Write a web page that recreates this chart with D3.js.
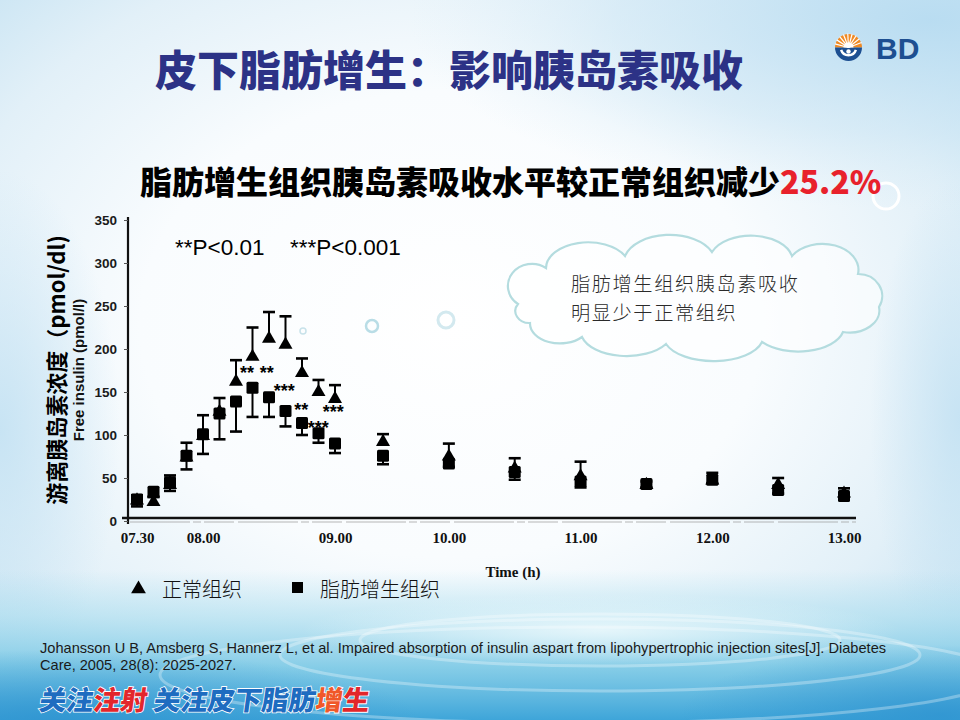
<!DOCTYPE html>
<html><head><meta charset="utf-8">
<script src="https://cdn.jsdelivr.net/npm/d3@7/dist/d3.min.js"></script>
<style>body{margin:0;background:#fff;} svg{display:block;}</style>
</head><body>
<svg id="c" width="960" height="720"></svg>
<script>
// ---------------- data ----------------
const times = [7.5, 7.625, 7.75, 7.875, 8.0, 8.125, 8.25, 8.375, 8.5, 8.625, 8.75, 8.875, 9.0,
               9.5, 10, 10.5, 11, 11.5, 12, 12.5, 13];
const normalMean = [24, 22, 42, 74, 99, 127, 162, 191, 212, 205, 172, 150, 142, 92, 75, 61, 52, 42, 47, 42, 32];
const normalSE   = [6, 6, 11, 17, 24, 16, 25, 34, 31, 33, 17, 14, 16, 9, 15, 12, 17, 4, 9, 8, 6];
const lipoMean   = [25, 34, 45, 76, 101, 125, 139, 155, 144, 128, 114, 102, 90, 76, 67, 57, 46, 43, 48, 36, 29];
const lipoSE     = [8, 6, 10, 16, 23, 30, 35, 34, 23, 18, 14, 11, 11, 10, 4, 9, 7, 4, 4, 4, 3];
const xTickValues = [7.5, 8, 9, 10, 11, 12, 13];
const xTickLabels = ["07.30", "08.00", "09.00", "10.00", "11.00", "12.00", "13.00"];
const yTickValues = [0, 50, 100, 150, 200, 250, 300, 350];
const sigLabels = ["**", "**", "***", "**", "***", "***"];
const sigTimes  = [8.333, 8.483, 8.616, 8.745, 8.873, 8.987];
const sigValues = [177, 177, 156, 134, 113, 131];
const seriesNames = ["正常组织", "脂肪增生组织"];
const pNotes = ["**P<0.01", "***P<0.001"];
const titleText = "皮下脂肪增生：影响胰岛素吸收";
const subtitleText = "脂肪增生组织胰岛素吸收水平较正常组织减少";
const subtitleValue = "25.2%";
const cloudLines = ["脂肪增生组织胰岛素吸收", "明显少于正常组织"];
const yTitleCn = "游离胰岛素浓度（pmol/dl)";
const yTitleEn = "Free insulin (pmol/l)";
const xTitle = "Time (h)";
const refLines = ["Johansson U B, Amsberg S, Hannerz L, et al. Impaired absorption of insulin aspart from lipohypertrophic injection sites[J]. Diabetes",
                  "Care, 2005, 28(8): 2025-2027."];

// ---------------- setup ----------------
const svg = d3.select("#c");
const defs = svg.append("defs");
const CJK = "'Noto Sans CJK SC','Noto Sans',sans-serif";
const SANS = "'Liberation Sans',Arial,sans-serif";
const SERIF = "'Liberation Serif','Times New Roman',serif";

function radial(id, stops){
  const g = defs.append("radialGradient").attr("id",id);
  stops.forEach(s=>g.append("stop").attr("offset",s[0]).attr("stop-color",s[1]).attr("stop-opacity",s[2]));
}
// background
const rg = defs.append("radialGradient").attr("id","bg").attr("cx","0.47").attr("cy","0.45").attr("r","0.72");
[[0,"#ffffff"],[0.45,"#f9fcfe"],[0.75,"#e2f0f8"],[1,"#c2e1f2"]].forEach(s=>rg.append("stop").attr("offset",s[0]).attr("stop-color",s[1]));
svg.append("rect").attr("width",960).attr("height",720).attr("fill","url(#bg)");
radial("tr", [[0,"#b8dcf1",0.95],[0.6,"#c8e4f4",0.5],[1,"#d8ecf7",0]]);
svg.append("ellipse").attr("cx",930).attr("cy",20).attr("rx",520).attr("ry",190).attr("fill","url(#tr)");
radial("lf", [[0,"#c4e2f3",0.9],[1,"#c4e2f3",0]]);
svg.append("ellipse").attr("cx",0).attr("cy",430).attr("rx",120).attr("ry",260).attr("fill","url(#lf)");
svg.append("ellipse").attr("cx",960).attr("cy",420).attr("rx",90).attr("ry",240).attr("fill","url(#lf)");
const bgBot = defs.append("linearGradient").attr("id","botg").attr("x1",0).attr("y1",0).attr("x2",0).attr("y2",1);
[[0,"#a6dcee",0],[0.3,"#a6dcee",0.55],[0.65,"#74c6e4",0.85],[1,"#3ea5d9",1]].forEach(s=>bgBot.append("stop").attr("offset",s[0]).attr("stop-color",s[1]).attr("stop-opacity",s[2]));
svg.append("rect").attr("y",570).attr("width",960).attr("height",150).attr("fill","url(#botg)");
radial("bl", [[0,"#2e93d0",0.8],[1,"#2e93d0",0]]);
svg.append("ellipse").attr("cx",60).attr("cy",720).attr("rx",360).attr("ry",70).attr("fill","url(#bl)");
svg.append("ellipse").attr("cx",940).attr("cy",715).attr("rx",260).attr("ry",70).attr("fill","url(#bl)");
radial("hl", [[0,"#eaf8fc",0.9],[1,"#eaf8fc",0]]);
svg.append("ellipse").attr("cx",600).attr("cy",630).attr("rx",300).attr("ry",36).attr("fill","url(#hl)");
[[600,640,240,26],[600,655,320,36],[580,675,420,48]].forEach(e=>svg.append("ellipse").attr("cx",e[0]).attr("cy",e[1]).attr("rx",e[2]).attr("ry",e[3])
  .attr("fill","none").attr("stroke","#ffffff").attr("stroke-opacity",0.3).attr("stroke-width",3));

// decorative bubbles
[[372,326,6,"#b9dde6",2.5],[446,320,8,"#d3e9ef",3],[303,331,3,"#c8e2ea",1.5],[886,196,13,"#ffffff",3]].forEach(c=>
  svg.append("circle").attr("cx",c[0]).attr("cy",c[1]).attr("r",c[2]).attr("fill","none").attr("stroke",c[3]).attr("stroke-width",c[4]));

// ---------------- title / logo ----------------
svg.append("text").attr("x",155).attr("y",67).attr("dominant-baseline","central")
  .attr("font-family",CJK).attr("font-weight",900).attr("font-size",42).attr("fill","#2c3286").text(titleText);

const lg = svg.append("g").attr("transform","translate(848.5,47.5)");
lg.append("path").attr("d",d3.arc()({innerRadius:0,outerRadius:13.5,startAngle:-Math.PI/2,endAngle:Math.PI/2})).attr("fill","#f08a24");
lg.append("path").attr("d",d3.arc()({innerRadius:0,outerRadius:13.5,startAngle:Math.PI/2,endAngle:Math.PI*1.5})).attr("fill","#1d4f91");
d3.range(-75,80,18).forEach(a=>{const r=a*Math.PI/180;lg.append("line").attr("x1",0).attr("y1",0)
  .attr("x2",14*Math.sin(r)).attr("y2",-14*Math.cos(r)).attr("stroke","#fff").attr("stroke-width",1.2);});
lg.append("path").attr("d",d3.arc()({innerRadius:0,outerRadius:5,startAngle:-Math.PI/2,endAngle:Math.PI/2})).attr("fill","#fff");
lg.append("path").attr("d",d3.arc()({innerRadius:6.5,outerRadius:9,startAngle:Math.PI*0.6,endAngle:Math.PI*1.4})).attr("fill","#fff");
lg.append("circle").attr("cx",0).attr("cy",4).attr("r",2.2).attr("fill","#fff");
svg.append("text").attr("x",876).attr("y",59).attr("font-family",SANS).attr("font-weight","bold")
  .attr("font-size",30).attr("fill","#1d4f91").text("BD");

// subtitle
const st = svg.append("text").attr("x",140).attr("y",180).attr("dominant-baseline","central")
  .attr("font-family",CJK).attr("font-weight",900).attr("font-size",32).attr("fill","#000");
st.append("tspan").text(subtitleText);
st.append("tspan").attr("fill","#e8212b").text(subtitleValue);

// ---------------- chart ----------------
const x = d3.scaleLinear().domain([7.5, 9, 9.5, 13]).range([137, 335, 383, 844]);
const y = d3.scaleLinear().domain([0, 350]).range([521, 220]);

// axis lines
svg.append("line").attr("x1",128).attr("x2",128).attr("y1",217).attr("y2",524).attr("stroke","#111").attr("stroke-width",2.2);
svg.append("line").attr("x1",122).attr("x2",856).attr("y1",y(0)-3).attr("y2",y(0)-3).attr("stroke","#111").attr("stroke-width",2.4);
svg.append("line").attr("x1",130).attr("x2",856).attr("y1",y(0)+1).attr("y2",y(0)+1).attr("stroke","#9a9a9a").attr("stroke-width",1)
  .attr("stroke-dasharray","60,3,8,3,30,4").attr("opacity",0.7);

// y axis
const ya = svg.append("g").attr("transform","translate(128,0)")
  .call(d3.axisLeft(y).tickValues(yTickValues).tickSize(4).tickPadding(7));
ya.select(".domain").remove();
ya.selectAll("line").attr("stroke","#555");
ya.selectAll("text").attr("font-family",SANS).attr("font-weight","bold").attr("font-size",13.5).attr("fill","#1a1a1a");

// x axis
const xa = svg.append("g").attr("transform",`translate(0,${y(0)-3})`)
  .call(d3.axisBottom(x).tickValues(xTickValues).tickFormat((d,i)=>xTickLabels[i]).tickSize(0).tickPadding(14));
xa.select(".domain").remove();
xa.selectAll("text").attr("font-family",SERIF).attr("font-weight","bold").attr("font-size",15).attr("fill","#111");

svg.append("text").attr("x",513).attr("y",577).attr("text-anchor","middle").attr("font-family",SERIF)
  .attr("font-weight","bold").attr("font-size",15).attr("fill","#111").text(xTitle);

svg.append("text").attr("transform","translate(78,370) rotate(-90)").attr("text-anchor","middle").attr("dominant-baseline","central")
  .attr("font-family",SANS).attr("font-weight","bold").attr("font-size",15).attr("fill","#111").text(yTitleEn);
svg.append("text").attr("transform","translate(55,370) rotate(-90)").attr("text-anchor","middle").attr("dominant-baseline","central")
  .attr("font-family",CJK).attr("font-weight","bold").attr("font-size",22).attr("fill","#000").text(yTitleCn);

// error bars + markers
const cap = 12;
const gL = svg.append("g");
times.forEach((t,i)=>{
  const cx = x(t), y0 = y(lipoMean[i]), y1 = y(lipoMean[i]-lipoSE[i]);
  gL.append("line").attr("x1",cx).attr("x2",cx).attr("y1",y0).attr("y2",y1).attr("stroke","#000").attr("stroke-width",2);
  gL.append("line").attr("x1",cx-cap/2).attr("x2",cx+cap/2).attr("y1",y1).attr("y2",y1).attr("stroke","#000").attr("stroke-width",2.6);
});
gL.selectAll("rect.sq").data(times).join("rect").attr("class","sq")
  .attr("x",(t)=>x(t)-6).attr("y",(t,i)=>y(lipoMean[i])-6).attr("width",12).attr("height",12).attr("rx",1.5).attr("fill","#000");

const gN = svg.append("g");
times.forEach((t,i)=>{
  const cx = x(t), y0 = y(normalMean[i]), y1 = y(normalMean[i]+normalSE[i]);
  gN.append("line").attr("x1",cx).attr("x2",cx).attr("y1",y0).attr("y2",y1).attr("stroke","#000").attr("stroke-width",2);
  gN.append("line").attr("x1",cx-cap/2).attr("x2",cx+cap/2).attr("y1",y1).attr("y2",y1).attr("stroke","#000").attr("stroke-width",2.6);
});
const tri = d3.symbol().type(d3.symbolTriangle).size(85);
gN.selectAll("path.tri").data(times).join("path").attr("class","tri")
  .attr("transform",(t,i)=>`translate(${x(t)},${y(normalMean[i])})`).attr("d",tri).attr("fill","#000");

// significance stars
svg.append("g").selectAll("text").data(sigLabels).join("text")
  .attr("x",(d,i)=>x(sigTimes[i])).attr("y",(d,i)=>y(sigValues[i])+10).attr("text-anchor","middle")
  .attr("font-family",SANS).attr("font-weight","bold").attr("font-size",18).attr("fill","#000").text(d=>d);

// P notes
svg.append("text").attr("x",175).attr("y",255).attr("font-family",SANS).attr("font-size",22.5).attr("fill","#000").text(pNotes[0]);
svg.append("text").attr("x",290).attr("y",255).attr("font-family",SANS).attr("font-size",22.5).attr("fill","#000").text(pNotes[1]);

// cloud callout
svg.append("path").attr("d","M518,304 A24,22 0 0,1 546,268 A42,26 0 0,1 625,256 A46,28 0 0,1 712,252 A42,26 0 0,1 792,256 A36,26 0 0,1 858,274 A24,22 0 0,1 879,307 A30,22 0 0,1 843,332 A46,25 0 0,1 762,342 A50,25 0 0,1 666,344 A46,25 0 0,1 582,337 A30,20 0 0,1 530,323 A14,12 0 0,1 518,304 Z")
  .attr("fill","#ffffff").attr("fill-opacity",0.55).attr("stroke","#b4dcdf").attr("stroke-width",2.2);
cloudLines.forEach((l,i)=>svg.append("text").attr("x",571).attr("y",291+i*28.5)
  .attr("font-family",CJK).attr("font-weight",300).attr("font-size",19.2).attr("letter-spacing",1.6)
  .attr("fill","#2a2a2a").text(l));

// legend
const leg = svg.append("g");
leg.append("path").attr("transform","translate(138.5,589)").attr("d",d3.symbol().type(d3.symbolTriangle).size(95)).attr("fill","#000");
leg.append("text").attr("x",162).attr("y",588).attr("dominant-baseline","central").attr("font-family",CJK).attr("font-weight",300)
  .attr("font-size",20).attr("fill","#111").text(seriesNames[0]);
leg.append("rect").attr("x",292).attr("y",582).attr("width",11).attr("height",11).attr("fill","#000");
leg.append("text").attr("x",320).attr("y",588).attr("dominant-baseline","central").attr("font-family",CJK).attr("font-weight",300)
  .attr("font-size",20).attr("fill","#111").text(seriesNames[1]);

// reference
refLines.forEach((l,i)=>svg.append("text").attr("x",40).attr("y",653+i*17).attr("font-family",SANS)
  .attr("font-size",14.6).attr("fill","#1a1a1a").text(l));

// bottom banner
const bn = svg.append("text").attr("transform","translate(40,698) skewX(-8)").attr("dominant-baseline","central")
  .attr("font-family",CJK).attr("font-weight",900).attr("font-size",27)
  .attr("stroke","#ffffff").attr("stroke-width",1.6).attr("paint-order","stroke");
[["关注","#1e6cc0"],["注射","#e3262c"],[" 关注皮下脂肪","#1e6cc0"],["增","#f0582a"],["生","#e2262b"]].forEach(p=>
  bn.append("tspan").attr("fill",p[1]).text(p[0]));
</script>
</body></html>
